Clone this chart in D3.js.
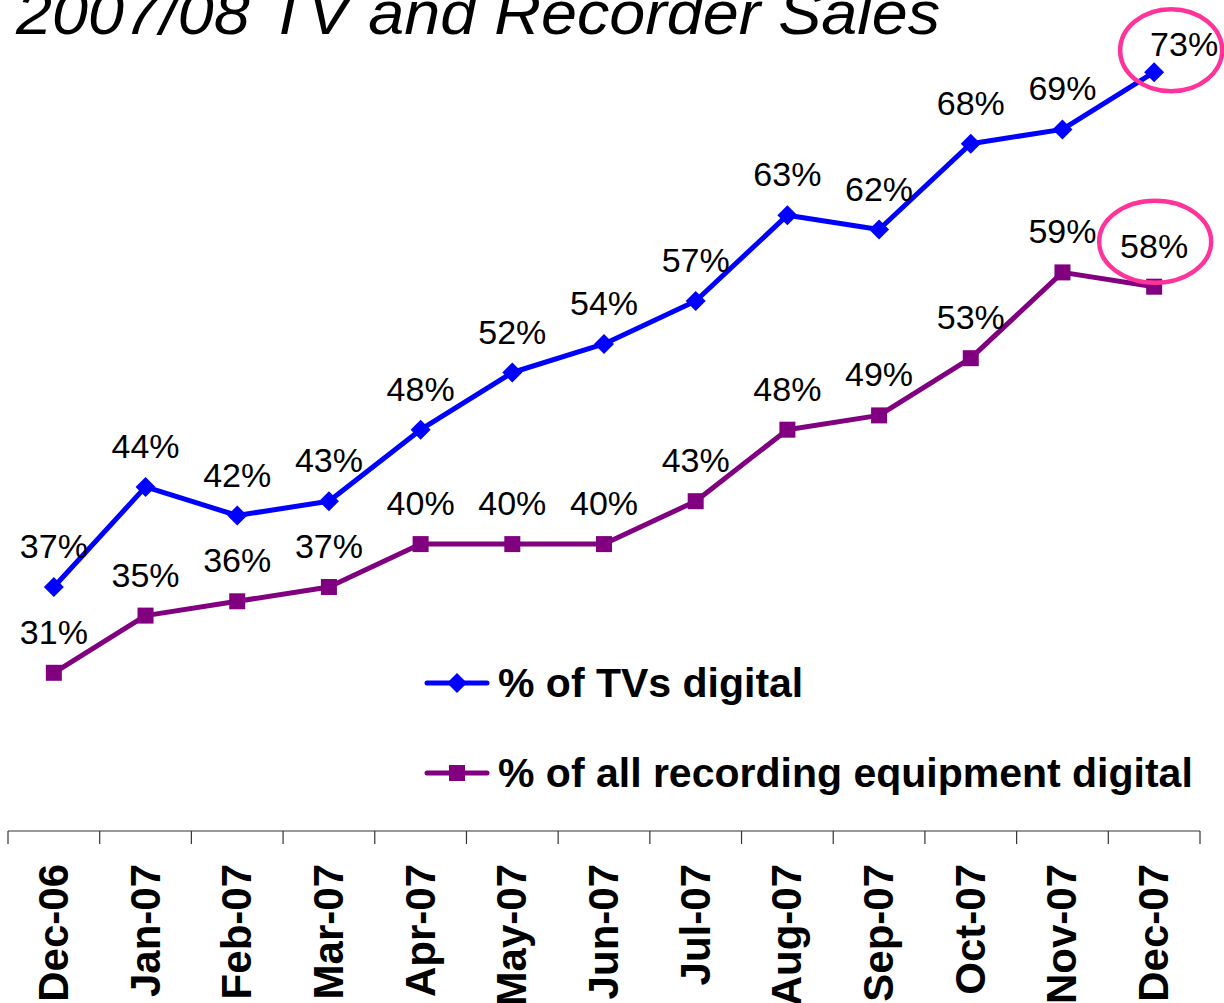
<!DOCTYPE html>
<html lang="en">
<head>
<meta charset="UTF-8">
<title>2007/08 TV and Recorder Sales</title>
<script src="https://d3js.org/d3.v7.min.js"></script>
<style>
    body { margin: 0; background: #fff; font-family: "Liberation Sans", Arial, sans-serif; }
</style>
</head>
<body>
<svg id="chart" width="1224" height="1003"></svg>
<script>
    // chart data
    const months = ["Dec-06", "Jan-07", "Feb-07", "Mar-07", "Apr-07", "May-07", "Jun-07",
                    "Jul-07", "Aug-07", "Sep-07", "Oct-07", "Nov-07", "Dec-07"];
    const tvDigital = [37, 44, 42, 43, 48, 52, 54, 57, 63, 62, 68, 69, 73];
    const recDigital = [31, 35, 36, 37, 40, 40, 40, 43, 48, 49, 53, 59, 58];
    const seriesNames = ["% of TVs digital", "% of all recording equipment digital"];

    const width = 1224, height = 1003;
    const svg = d3.select("#chart");

    const x = d3.scaleBand().domain(months).range([8, 1200]);
    const y = d3.scaleLinear().domain([30, 75]).range([687.1, 43.6]);
    const cx = d => x(d) + x.bandwidth() / 2;

    // title (top is cut off in the original)
    svg.append("text")
        .attr("x", 16).attr("y", 34)
        .attr("font-size", 62)
        .attr("font-style", "italic")
        .attr("textLength", 924)
        .attr("lengthAdjust", "spacingAndGlyphs")
        .text("2007/08 TV and Recorder Sales");

    // x axis
    const axis = svg.append("g").attr("transform", "translate(0,831)");
    axis.append("line").attr("x1", 8).attr("x2", 1200).attr("stroke", "#333").attr("stroke-width", 1.2);
    const ticks = months.map(m => x(m)).concat([1200]);
    axis.selectAll("line.tick").data(ticks).enter().append("line")
        .attr("class", "tick")
        .attr("x1", d => d).attr("x2", d => d)
        .attr("y1", 0).attr("y2", 13)
        .attr("stroke", "#333").attr("stroke-width", 1.2);
    svg.selectAll("text.month").data(months).enter().append("text")
        .attr("class", "month")
        .attr("transform", d => `translate(${cx(d) + 14},864) rotate(-90)`)
        .attr("text-anchor", "end")
        .attr("font-size", 42)
        .attr("font-weight", "bold")
        .text(d => d);

    const series = [
        { name: seriesNames[0], values: tvDigital, color: "#0000ff", marker: "diamond" },
        { name: seriesNames[1], values: recDigital, color: "#800080", marker: "square" }
    ];

    const line = d3.line().x((d, i) => cx(months[i])).y(d => y(d));

    function drawMarker(g, type, color, px, py) {
        if (type === "diamond") {
            g.append("path")
                .attr("d", `M${px},${py - 10}L${px + 10},${py}L${px},${py + 10}L${px - 10},${py}Z`)
                .attr("fill", color);
        } else {
            g.append("rect")
                .attr("x", px - 8).attr("y", py - 8)
                .attr("width", 16).attr("height", 16)
                .attr("fill", color);
        }
    }

    series.forEach(s => {
        svg.append("path")
            .datum(s.values)
            .attr("d", line)
            .attr("fill", "none")
            .attr("stroke", s.color)
            .attr("stroke-width", 5)
            .attr("stroke-linejoin", "round");
        const g = svg.append("g");
        s.values.forEach((v, i) => drawMarker(g, s.marker, s.color, cx(months[i]), y(v)));
        svg.selectAll(null).data(s.values).enter().append("text")
            .attr("x", (d, i) => cx(months[i]) + (s.marker === "diamond" && i === months.length - 1 ? 30 : 0))
            .attr("y", (d, i) => y(d) - (s.marker === "diamond" && i === months.length - 1 ? 16 : 29))
            .attr("text-anchor", "middle")
            .attr("font-size", 34)
            .text(d => d + "%");
    });

    // highlight ellipses around the last values
    const last = months[months.length - 1];
    svg.append("ellipse")
        .attr("cx", cx(last) + 17).attr("cy", y(tvDigital[12]) - 22)
        .attr("rx", 51).attr("ry", 41)
        .attr("fill", "none").attr("stroke", "#ff3399").attr("stroke-width", 4.5);
    svg.append("ellipse")
        .attr("cx", cx(last) + 1).attr("cy", y(recDigital[12]) - 45)
        .attr("rx", 56).attr("ry", 41)
        .attr("fill", "none").attr("stroke", "#ff3399").attr("stroke-width", 4.5);

    // legend
    const legend = svg.append("g");
    series.forEach((s, i) => {
        const ly = 683 + i * 90;
        legend.append("line")
            .attr("x1", 427).attr("x2", 487).attr("y1", ly).attr("y2", ly)
            .attr("stroke", s.color).attr("stroke-width", 5).attr("stroke-linecap", "round");
        drawMarker(legend, s.marker, s.color, 457, ly);
        legend.append("text")
            .attr("x", 498).attr("y", ly + 14)
            .attr("font-size", 41).attr("font-weight", "bold")
            .text(s.name);
    });
</script>
</body>
</html>
